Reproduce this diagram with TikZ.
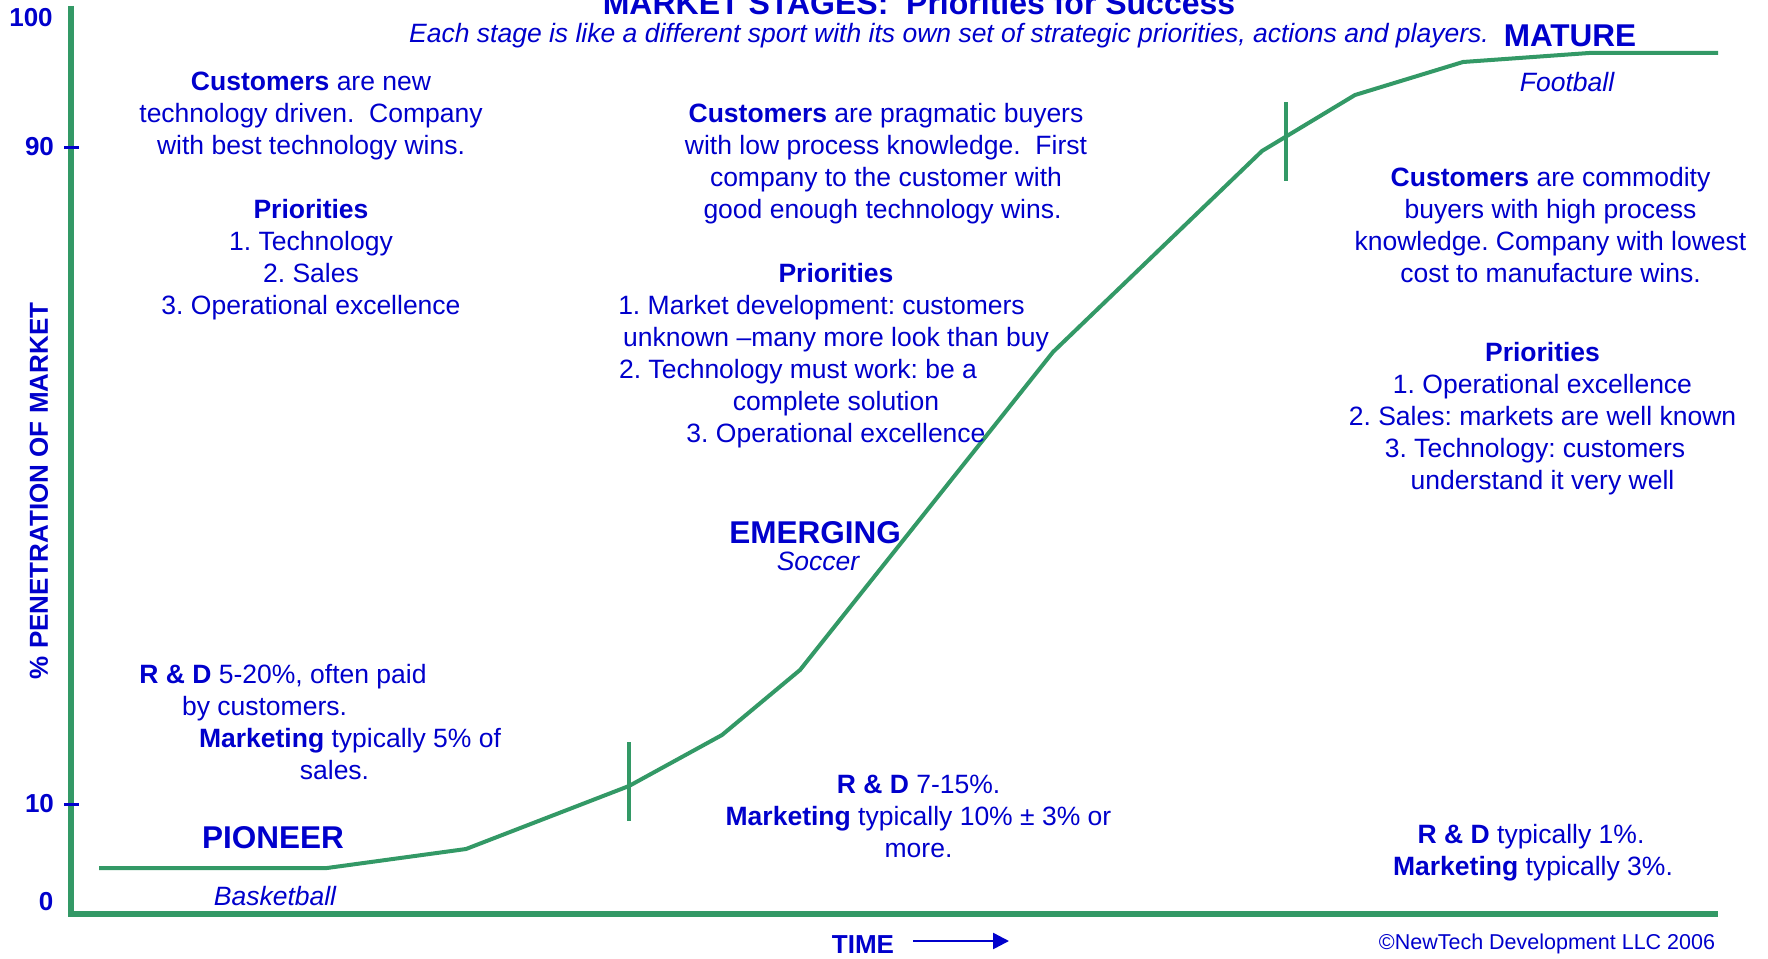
\documentclass[tikz,border=0pt]{standalone}
\usepackage{fontspec}
\setmainfont{Liberation Sans}
\usetikzlibrary{arrows.meta}
\definecolor{curvegreen}{RGB}{51,153,102}
\definecolor{textblue}{RGB}{0,0,204}
% empty box used to push a centred line to the left
\newcommand{\padright}[1]{\hbox to #1{}}
\frenchspacing
\begin{document}
\begin{tikzpicture}[x=1pt,y=-1pt,
  txt/.style={text=textblue, inner sep=0pt, font=\fontsize{26.5}{32}\selectfont},
  textblock/.style={txt, align=center, anchor=north},
  oneline/.style={txt, anchor=base},
  stagename/.style={text=textblue, inner sep=0pt, anchor=base, font=\fontsize{31.5}{36}\selectfont\bfseries},
  sportname/.style={oneline, font=\fontsize{26.5}{32}\selectfont\itshape},
  axisline/.style={draw=curvegreen, line width=6pt},
  adoption/.style={draw=curvegreen, line width=4pt, line join=round},
  stagemark/.style={draw=curvegreen, line width=3.5pt},
  ytick/.style={draw=textblue, line width=3pt},
  ticklabel/.style={text=textblue, inner sep=0pt, anchor=base, font=\fontsize{26}{30}\selectfont\bfseries},
]
\useasboundingbox[fill=white] (0,0) rectangle (1768,958);

% ---- axes ----
\coordinate (origin) at (71,914);
\coordinate (ytop) at (71,6);
\coordinate (xend) at (1718,914);
\draw[axisline] (ytop) -- (origin) -- (xend);

% ---- y ticks and labels ----
\coordinate (t90a) at (64,147);  \coordinate (t90b) at (79,147);
\coordinate (t10a) at (64,804);  \coordinate (t10b) at (79,804);
\draw[ytick] (t90a) -- (t90b);
\draw[ytick] (t10a) -- (t10b);
\node[ticklabel] (l100) at (31,27) {100};
\node[ticklabel] (l90) at (39.5,155) {90};
\node[ticklabel] (l10) at (39.5,812) {10};
\node[ticklabel] (l0) at (46,910) {0};
\node[text=textblue, inner sep=0pt, rotate=90, font=\fontsize{26}{30}\selectfont\bfseries]
  (ylab) at (39,491) {\% PENETRATION OF MARKET};

% ---- x axis label ----
\node[ticklabel] (time) at (863,953) {TIME};
\coordinate (arrA) at (913,941);
\coordinate (arrB) at (1009,941);
\draw[textblue, line width=2.5pt, -{Triangle[length=16pt,width=16pt]}] (arrA) -- (arrB);
\node[txt, anchor=base, font=\fontsize{21.5}{26}\selectfont] (copy) at (1547,949) {©NewTech Development LLC 2006};

% ---- titles ----
\node[text=textblue, inner sep=0pt, anchor=base, font=\fontsize{32}{36}\selectfont\bfseries]
  (title) at (919,15) {MARKET STAGES:\ \ Priorities for Success};
\node[oneline, font=\fontsize{26.5}{32}\selectfont\itshape] (subtitle) at (949,42)
  {Each stage is like a different sport with its own set of strategic priorities, actions and players.};

% ---- adoption curve ----
\coordinate (p0) at (99,868);
\coordinate (p1) at (327,868);
\coordinate (p2) at (466,849);
\coordinate (p3) at (629,786);
\coordinate (p4) at (722,735);
\coordinate (p5) at (800,670);
\coordinate (p6) at (1053,352);
\coordinate (p7) at (1262,151);
\coordinate (p8) at (1355,95);
\coordinate (p9) at (1463,62);
\coordinate (p10) at (1589,53);
\coordinate (p11) at (1718,53);
\draw[adoption] (p0) -- (p1) -- (p2) -- (p3) -- (p4) -- (p5) -- (p6) -- (p7) -- (p8) -- (p9) -- (p10) -- (p11);

% stage boundaries
\coordinate (m1a) at (629,742); \coordinate (m1b) at (629,821);
\coordinate (m2a) at (1286,102); \coordinate (m2b) at (1286,181);
\draw[stagemark] (m1a) -- (m1b);
\draw[stagemark] (m2a) -- (m2b);

% ---- stage names ----
\node[stagename] (pioneer) at (273,848) {PIONEER};
\node[sportname] (basket) at (275,905) {Basketball};
\node[stagename] (emerging) at (815,543) {EMERGING};
\node[sportname] (soccer) at (818,570) {Soccer};
\node[stagename] (mature) at (1570,47) {MATURE};
\node[sportname] (football) at (1567,91) {Football};

% ---- pioneer stage ----
\node[textblock] (pcust) at (311,72) {\textbf{Customers} are new\\technology driven.\ \ Company\\with best technology wins.};
\node[textblock] (pprio) at (311,199) {\textbf{Priorities}\\1. Technology\\2. Sales\\3. Operational excellence};
\node[oneline] (prd1) at (283,683) {\textbf{R \& D} 5-20\%, often paid};
\node[oneline] (prd2) at (264.5,715) {by customers.};
\node[oneline] (pmk1) at (350,747) {\textbf{Marketing} typically 5\% of};
\node[oneline] (pmk2) at (334.5,779) {sales.};

% ---- emerging stage ----
\node[textblock] (ecust) at (886,103) {\textbf{Customers} are pragmatic buyers\\with low process knowledge.\ \ First\\company to the customer with\\good enough technology wins.\padright{7pt}};
\node[textblock] (eprio) at (836,263) {\textbf{Priorities}\\1. Market development: customers\padright{29pt}\\unknown –many more look than buy\\2. Technology must work: be a\padright{76pt}\\complete solution\\3. Operational excellence};
\node[textblock] (erd) at (918.5,775) {\textbf{R \& D} 7-15\%.\\\textbf{Marketing} typically 10\% ± 3\% or\\more.};

% ---- mature stage ----
\node[textblock] (mcust) at (1550.5,167) {\textbf{Customers} are commodity\\buyers with high process\\knowledge. Company with lowest\\cost to manufacture wins.};
\node[textblock] (mprio) at (1542.5,342) {\textbf{Priorities}\\1. Operational excellence\\2. Sales: markets are well known\\3. Technology: customers\padright{15pt}\\understand it very well};
\node[textblock] (mrd) at (1533,824) {\textbf{R \& D} typically 1\%.\padright{4pt}\\\textbf{Marketing} typically 3\%.};

\end{tikzpicture}
\end{document}
